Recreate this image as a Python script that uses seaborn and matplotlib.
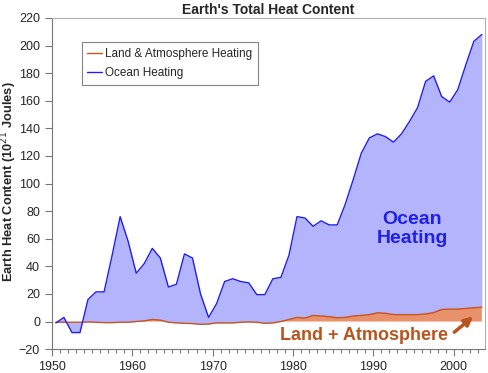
import numpy as np
import seaborn as sns
import matplotlib.pyplot as plt
from matplotlib.ticker import MultipleLocator

# valores (10^21 J), un punto por año
years = np.arange(1950, 2004)
total_heat = [-1, 3, -8, -8, 16, 21.5, 21.5, 48, 76, 58,
              35, 42, 53, 46, 25, 27, 49, 46, 20, 3,
              13, 29, 31, 29, 28, 19.5, 19.5, 31, 32, 48,
              76, 75, 69, 73, 70, 70, 85, 103, 122, 133,
              136, 134, 130, 136, 145, 155, 174, 178, 163, 159,
              168, 186, 203, 208]
land_heat = [-0.5, -0.5, -0.5, -0.5, -0.3, -0.5, -0.8, -0.8, -0.5, -0.5,
             0, 0.5, 1.5, 1, -0.5, -1, -1.3, -1.5, -2, -1.8,
             -1, -1, -1, -0.5, -0.3, -0.5, -1.3, -1, 0, 1.5,
             3, 2.5, 4.4, 4, 3.5, 2.7, 3, 4, 4.4, 5,
             6.3, 6, 5, 5, 5, 5, 5.5, 6.5, 8.7, 9,
             9, 9.5, 10, 10.4]

x = years + 0.5

sns.set_style('white')
plt.rcParams['font.family'] = ['Liberation Sans', 'DejaVu Sans']

fig = plt.figure(figsize=(4.89, 3.73), dpi=100)
ax = fig.add_axes([0.106, 0.064, 0.886, 0.888])

# rellenos
ax.fill_between(x, land_heat, total_heat, color='#b4b4fc', lw=0)
ax.fill_between(x, 0, land_heat, where=np.array(land_heat) > 0,
                color='#e8916a', lw=0, interpolate=True)

sns.lineplot(x=x, y=land_heat, color='#c8541e', lw=1, ax=ax,
             label='Land & Atmosphere Heating')
sns.lineplot(x=x, y=total_heat, color='#2020ee', lw=1, ax=ax,
             label='Ocean Heating')

ax.set_xlim(1950, 2003.9)
ax.set_ylim(-20, 220)
ax.xaxis.set_major_locator(MultipleLocator(10))
ax.xaxis.set_minor_locator(MultipleLocator(1))
ax.yaxis.set_major_locator(MultipleLocator(20))
ax.tick_params(axis='both', which='major', direction='out', length=5,
               width=0.8, color='#777777', labelsize=9, bottom=True, left=True)
ax.tick_params(axis='x', which='minor', direction='out', length=3,
               width=0.8, color='#777777', bottom=True)
for s in ax.spines.values():
    s.set_color('#b0b0b0')
    s.set_linewidth(0.8)
ax.spines['left'].set_color('#777777')
ax.spines['bottom'].set_color('#777777')

ax.set_title("Earth's Total Heat Content", fontsize=10, fontweight='bold', pad=3)
ax.set_ylabel('Earth Heat Content (10$^{21}$ Joules)', fontsize=9.3,
              fontweight='bold')
ax.yaxis.set_label_coords(-0.075, 0.506)
ax.set_xlabel('')

leg = ax.legend(loc='upper left', bbox_to_anchor=(0.055, 0.945), fontsize=8.5,
                frameon=True, fancybox=False, edgecolor='#666666',
                handlelength=1.2, handletextpad=0.3, borderpad=0.5,
                labelspacing=0.6)
leg.get_frame().set_linewidth(0.8)

ax.text(1994.8, 67, 'Ocean\nHeating', color='#2020e8', fontsize=14,
        fontweight='bold', ha='center', va='center', linespacing=1.1)
ax.text(1988.8, -10.2, 'Land + Atmosphere', color='#b8541e', fontsize=13,
        fontweight='bold', ha='center', va='center')
ax.annotate('', xy=(2002.7, 4.9), xytext=(1999.8, -9),
            arrowprops=dict(arrowstyle='-|>,head_width=0.25,head_length=0.5',
                            color='#b8541e', lw=2.5))

fig.savefig('out.png', dpi=100)
